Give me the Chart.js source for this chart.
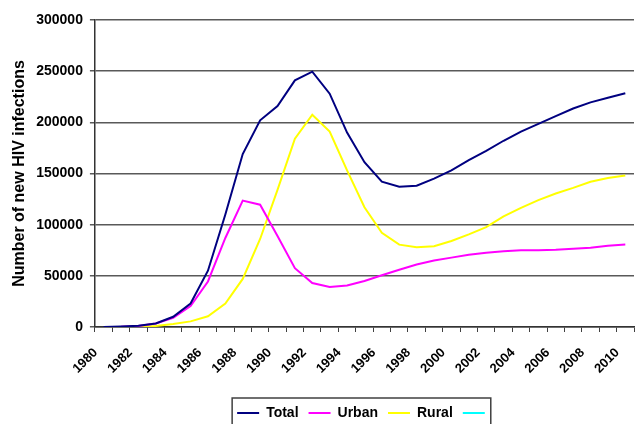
<!DOCTYPE html>
<html lang="en">
<head>
    <meta charset="UTF-8">
    <title>New HIV infections</title>
    <script src="https://cdn.jsdelivr.net/npm/chart.js"></script>
    <style>
        html, body {
            margin: 0;
            padding: 0;
            background: #fff;
        }
        .chart-box {
            width: 636px;
            height: 424px;
        }
    </style>
</head>
<body>
    <div class="chart-box">
        <canvas id="hivChart" width="636" height="424"></canvas>
    </div>
    <script>
        const years = [1980, 1981, 1982, 1983, 1984, 1985, 1986, 1987, 1988, 1989,
                       1990, 1991, 1992, 1993, 1994, 1995, 1996, 1997, 1998, 1999,
                       2000, 2001, 2002, 2003, 2004, 2005, 2006, 2007, 2008, 2009, 2010];
        const labelYears = [1980, 1982, 1984, 1986, 1988, 1990, 1992, 1994,
                            1996, 1998, 2000, 2002, 2004, 2006, 2008, 2010];
        const yTicks = [0, 50000, 100000, 150000, 200000, 250000, 300000];

        const total = [0, 500, 1200, 3500, 10000, 23000, 55000, 110000, 169000, 202000,
                       216000, 241000, 249500, 228000, 190000, 161000, 142000, 137000, 138000, 145000,
                       153000, 163000, 172000, 182000, 191000, 198500, 206000, 213500, 219500, 224000, 228500];
        const urban = [null, 300, 1000, 3500, 9000, 20500, 44500, 87000, 123500, 119500,
                       89000, 57500, 43000, 39000, 40500, 45000, 50500, 56000, 61000, 65000,
                       67800, 70500, 72500, 74000, 75000, 75000, 75500, 76500, 77500, 79500, 80500];
        const rural = [null, null, 300, 1000, 3000, 5500, 10500, 23000, 47000, 86000,
                       134000, 184000, 207500, 191000, 153000, 117000, 92000, 80500, 78000, 79000,
                       84000, 90500, 97500, 108000, 116500, 124000, 130500, 136000, 142000, 145500, 148000];
        const other = [];

        const fontFamily = "'Liberation Sans', Arial, sans-serif";

        // draws the frame round the legend items
        const legendFrame = {
            id: 'legendFrame',
            afterDraw(chart) {
                const lg = chart.legend;
                if (!lg || !lg.legendHitBoxes || !lg.legendHitBoxes.length) return;
                const boxes = lg.legendHitBoxes;
                const last = boxes[boxes.length - 1];
                const left = boxes[0].left - 5;
                const right = last.left + 28;
                const top = boxes[0].top - 8;
                const ctx = chart.ctx;
                ctx.save();
                ctx.strokeStyle = '#404040';
                ctx.lineWidth = 1.5;
                ctx.strokeRect(left, top, right - left, chart.height - top + 10);
                ctx.restore();
            }
        };

        function lineSet(label, data, color) {
            return {
                label: label,
                data: data,
                borderColor: color,
                backgroundColor: color,
                borderWidth: 2,
                pointRadius: 0,
                tension: 0,
                fill: false
            };
        }

        new Chart(document.getElementById('hivChart'), {
            type: 'line',
            data: {
                labels: years,
                datasets: [
                    lineSet('Total', total, '#000080'),
                    lineSet('Urban', urban, '#ff00ff'),
                    lineSet('Rural', rural, '#ffff00'),
                    lineSet('', other, '#00ffff')
                ]
            },
            options: {
                responsive: false,
                animation: false,
                devicePixelRatio: 1,
                layout: {
                    padding: { left: 6, top: 20, right: 2, bottom: -6 }
                },
                plugins: {
                    tooltip: { enabled: false },
                    legend: {
                        position: 'bottom',
                        fullSize: false,
                        labels: {
                            usePointStyle: true,
                            pointStyle: 'line',
                            pointStyleWidth: 22,
                            padding: 10,
                            color: '#000',
                            font: { family: fontFamily, size: 14, weight: 'bold' }
                        }
                    }
                },
                scales: {
                    x: {
                        offset: true,
                        grid: {
                            offset: true,
                            drawOnChartArea: false,
                            tickLength: 5,
                            color: '#404040',
                            lineWidth: 1
                        },
                        border: { color: '#333', width: 1.5 },
                        ticks: {
                            autoSkip: false,
                            minRotation: 45,
                            maxRotation: 45,
                            padding: 13,
                            labelOffset: -8,
                            color: '#000',
                            font: { family: fontFamily, size: 13, weight: 'bold' },
                            callback: function(value, index) {
                                return labelYears.includes(years[index]) ? String(years[index]) : '';
                            }
                        },
                        afterFit: function(axis) {
                            axis.height = 69;
                            axis.paddingLeft = 0;
                            axis.paddingRight = 0;
                        }
                    },
                    y: {
                        min: 0,
                        max: 300000,
                        afterBuildTicks: function(axis) {
                            axis.ticks = yTicks.map(v => ({ value: v }));
                        },
                        grid: {
                            color: '#595959',
                            lineWidth: 1.5,
                            tickLength: 5
                        },
                        border: { color: '#333', width: 1.5 },
                        ticks: {
                            padding: 7,
                            color: '#000',
                            font: { family: fontFamily, size: 14, weight: 'bold' },
                            callback: function(value) {
                                return String(value);
                            }
                        },
                        title: {
                            display: true,
                            text: 'Number of new HIV infections',
                            color: '#000',
                            padding: { top: 4, bottom: 0 },
                            font: { family: fontFamily, size: 16, weight: 'bold' }
                        }
                    }
                }
            },
            plugins: [legendFrame]
        });
    </script>
</body>
</html>
